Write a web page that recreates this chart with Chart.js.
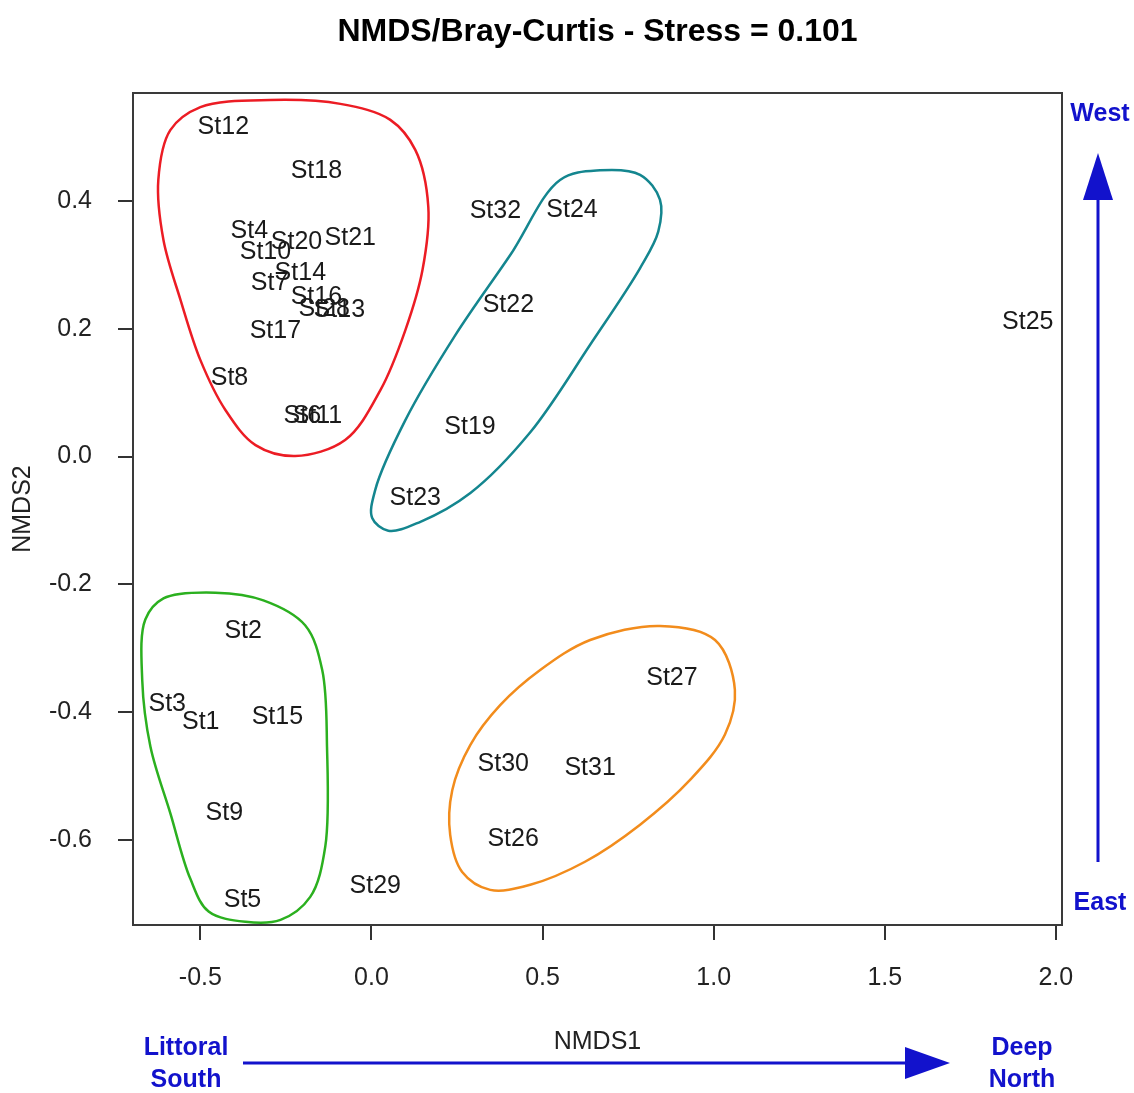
<!DOCTYPE html>
<html>
<head>
<meta charset="utf-8">
<script src="https://cdn.jsdelivr.net/npm/chart.js@4.4.0/dist/chart.umd.min.js"></script>
<style>
  body { margin: 0; background: #fff; }
  canvas { display: block; }
</style>
</head>
<body>
<canvas id="nmds" width="1134" height="1093"></canvas>
<script>

// DATA

const stations = [
    "St1", "St2", "St3", "St4", "St5", "St6", "St7", "St8", "St9", "St10",
    "St11", "St12", "St13", "St14", "St15", "St16", "St17", "St18", "St19", "St20",
    "St21", "St22", "St23", "St24", "St25", "St26", "St27", "St28", "St29", "St30",
    "St31", "St32"
];
const nmds1 = [
    -0.499, -0.375, -0.597, -0.357, -0.377, -0.202, -0.298, -0.415, -0.430, -0.310,
    -0.158, -0.433, -0.094, -0.208, -0.275, -0.161, -0.281, -0.161, 0.288, -0.219,
    -0.062, 0.400, 0.128, 0.586, 1.918, 0.414, 0.878, -0.138, 0.011, 0.385,
    0.639, 0.362
];
const nmds2 = [
    -0.415, -0.273, -0.387, 0.353, -0.694, 0.064, 0.272, 0.123, -0.558, 0.320,
    0.064, 0.516, 0.229, 0.287, -0.407, 0.250, 0.197, 0.447, 0.046, 0.336,
    0.342, 0.237, -0.065, 0.386, 0.211, -0.598, -0.346, 0.231, -0.672, -0.481,
    -0.487, 0.384
];

const xTicks = [-0.5, 0.0, 0.5, 1.0, 1.5, 2.0];
const yTicks = [-0.6, -0.4, -0.2, 0.0, 0.2, 0.4];

// group outlines (hand drawn hulls), in NMDS units
const redHullX = [-0.500, -0.296, -0.091, 0.055, 0.128, 0.166, 0.149, 0.099, 0.026, -0.077, -0.223, -0.339, -0.427, -0.500, -0.558, -0.608, -0.623, -0.588];
const redHullY = [0.547, 0.558, 0.552, 0.527, 0.480, 0.391, 0.292, 0.198, 0.104, 0.026, 0.001, 0.018, 0.073, 0.151, 0.245, 0.339, 0.433, 0.511];

const tealHullX = [0.551, 0.668, 0.785, 0.843, 0.838, 0.785, 0.639, 0.464, 0.289, 0.143, 0.049, 0.002, 0.011, 0.099, 0.245, 0.405];
const tealHullY = [0.433, 0.448, 0.441, 0.402, 0.352, 0.295, 0.175, 0.038, -0.057, -0.102, -0.116, -0.096, -0.052, 0.057, 0.190, 0.315];

const greenHullX = [-0.456, -0.316, -0.194, -0.144, -0.130, -0.135, -0.179, -0.266, -0.368, -0.476, -0.530, -0.588, -0.646, -0.670, -0.661, -0.608];
const greenHullY = [-0.213, -0.225, -0.264, -0.334, -0.454, -0.610, -0.689, -0.725, -0.728, -0.712, -0.660, -0.558, -0.454, -0.350, -0.255, -0.222];

const orangeHullX = [0.843, 1.004, 1.062, 1.033, 0.931, 0.785, 0.624, 0.464, 0.347, 0.265, 0.230, 0.236, 0.289, 0.376, 0.493, 0.639];
const orangeHullY = [-0.265, -0.287, -0.365, -0.435, -0.506, -0.576, -0.634, -0.670, -0.678, -0.650, -0.592, -0.522, -0.451, -0.389, -0.334, -0.287];

const hulls = [
    { xs: redHullX, ys: redHullY, color: "#ec1c24" },
    { xs: tealHullX, ys: tealHullY, color: "#14868f" },
    { xs: greenHullX, ys: greenHullY, color: "#2bb01f" },
    { xs: orangeHullX, ys: orangeHullY, color: "#f28c1c" }
];

const FONT = "'Liberation Sans', Arial, sans-serif";
const BLUE = "#1212cc";


// HULLS (closed centripetal catmull-rom through the outline points)

function ctrl(p0, p1, p2, p3) {
    const d = (a, b) => Math.hypot(b[0] - a[0], b[1] - a[1]);
    const l01 = Math.sqrt(d(p0, p1)), l12 = Math.sqrt(d(p1, p2)), l23 = Math.sqrt(d(p2, p3));
    const a = 2 * l01 * l01 + 3 * l01 * l12 + l12 * l12, n = 3 * l01 * (l01 + l12);
    const b = 2 * l23 * l23 + 3 * l23 * l12 + l12 * l12, m = 3 * l23 * (l23 + l12);
    const c1 = [0, 1].map(k => (p1[k] * a - p0[k] * l12 * l12 + p2[k] * l01 * l01) / n);
    const c2 = [0, 1].map(k => (p2[k] * b + p1[k] * l23 * l23 - p3[k] * l12 * l12) / m);
    return [c1, c2];
}

const hullPlugin = {
    id: "hulls",
    beforeDatasetsDraw(chart) {
        const { ctx, scales } = chart;
        hulls.forEach(h => {
            const pts = h.xs.map((v, i) => [scales.x.getPixelForValue(v), scales.y.getPixelForValue(h.ys[i])]);
            const n = pts.length;
            ctx.save();
            ctx.strokeStyle = h.color;
            ctx.lineWidth = 2.5;
            ctx.beginPath();
            ctx.moveTo(pts[0][0], pts[0][1]);
            for (let i = 0; i < n; i++) {
                const p0 = pts[(i - 1 + n) % n], p1 = pts[i], p2 = pts[(i + 1) % n], p3 = pts[(i + 2) % n];
                const [c1, c2] = ctrl(p0, p1, p2, p3);
                ctx.bezierCurveTo(c1[0], c1[1], c2[0], c2[1], p2[0], p2[1]);
            }
            ctx.closePath();
            ctx.stroke();
            ctx.restore();
        });
    }
};


// STATION LABELS + FRAME + DIRECTION ARROWS

const labelPlugin = {
    id: "stationLabels",
    afterDatasetsDraw(chart) {
        const ctx = chart.ctx;
        const meta = chart.getDatasetMeta(0);
        ctx.save();
        ctx.font = "25px " + FONT;
        ctx.fillStyle = "#1a1a1a";
        ctx.textAlign = "center";
        ctx.textBaseline = "middle";
        meta.data.forEach((pt, i) => ctx.fillText(stations[i], pt.x, pt.y));
        ctx.restore();
    },
    afterDraw(chart) {
        const { ctx, chartArea: a } = chart;
        ctx.save();

        // box
        ctx.strokeStyle = "#3a3a3a";
        ctx.lineWidth = 2;
        ctx.strokeRect(a.left, a.top, a.right - a.left, a.bottom - a.top);

        // arrows
        ctx.strokeStyle = BLUE;
        ctx.fillStyle = BLUE;
        ctx.lineWidth = 3;

        const ay = 1063;
        ctx.beginPath();
        ctx.moveTo(243, ay);
        ctx.lineTo(910, ay);
        ctx.stroke();
        ctx.beginPath();
        ctx.moveTo(950, ay);
        ctx.lineTo(905, ay - 16);
        ctx.lineTo(905, ay + 16);
        ctx.closePath();
        ctx.fill();

        const ax = a.right + 36;
        ctx.beginPath();
        ctx.moveTo(ax, 862);
        ctx.lineTo(ax, 195);
        ctx.stroke();
        ctx.beginPath();
        ctx.moveTo(ax, 153);
        ctx.lineTo(ax - 15, 200);
        ctx.lineTo(ax + 15, 200);
        ctx.closePath();
        ctx.fill();

        // direction labels
        ctx.font = "bold 25px " + FONT;
        ctx.textAlign = "center";
        ctx.textBaseline = "middle";
        ctx.fillText("Littoral", 186, 1048);
        ctx.fillText("South", 186, 1080);
        ctx.fillText("Deep", 1022, 1048);
        ctx.fillText("North", 1022, 1080);
        ctx.fillText("West", ax + 2, 114);
        ctx.fillText("East", ax + 2, 903);
        ctx.restore();
    }
};


// CHART

const points = stations.map((s, i) => ({ x: nmds1[i], y: nmds2[i] }));

new Chart(document.getElementById("nmds"), {
    type: "scatter",
    data: {
        datasets: [{
            label: "stations",
            data: points,
            pointRadius: 0,
            pointHoverRadius: 0
        }]
    },
    options: {
        responsive: false,
        animation: false,
        layout: { padding: { left: 0, right: 72, top: 0, bottom: 0 } },
        plugins: {
            legend: { display: false },
            tooltip: { enabled: false },
            title: {
                display: true,
                text: "NMDS/Bray-Curtis - Stress = 0.101",
                color: "#000",
                fullSize: false,
                font: { family: FONT, size: 32, weight: "bold" },
                padding: { top: 13, bottom: 41.6 }
            }
        },
        scales: {
            x: {
                type: "linear",
                min: -0.697,
                max: 2.018,
                afterFit: s => { s.height = 168; },
                afterBuildTicks: s => { s.ticks = xTicks.map(v => ({ value: v })); },
                grid: { drawOnChartArea: false, drawTicks: true, tickLength: 15, color: "#333", lineWidth: 2 },
                border: { display: false },
                ticks: {
                    padding: 23,
                    color: "#222",
                    font: { family: FONT, size: 25 },
                    callback: v => v.toFixed(1)
                },
                title: {
                    display: true,
                    text: "NMDS1",
                    color: "#222",
                    font: { family: FONT, size: 25 },
                    padding: { top: 0, bottom: 36 }
                }
            },
            y: {
                type: "linear",
                min: -0.733,
                max: 0.569,
                afterFit: s => { s.width = 133; },
                afterBuildTicks: s => { s.ticks = yTicks.map(v => ({ value: v })); },
                grid: { drawOnChartArea: false, drawTicks: true, tickLength: 15, color: "#333", lineWidth: 2 },
                border: { display: false },
                ticks: {
                    padding: 26,
                    color: "#222",
                    font: { family: FONT, size: 25 },
                    callback: v => v.toFixed(1)
                },
                title: {
                    display: true,
                    text: "NMDS2",
                    color: "#222",
                    font: { family: FONT, size: 25 },
                    padding: { top: 8, bottom: 0 }
                }
            }
        }
    },
    plugins: [hullPlugin, labelPlugin]
});
</script>
</body>
</html>
